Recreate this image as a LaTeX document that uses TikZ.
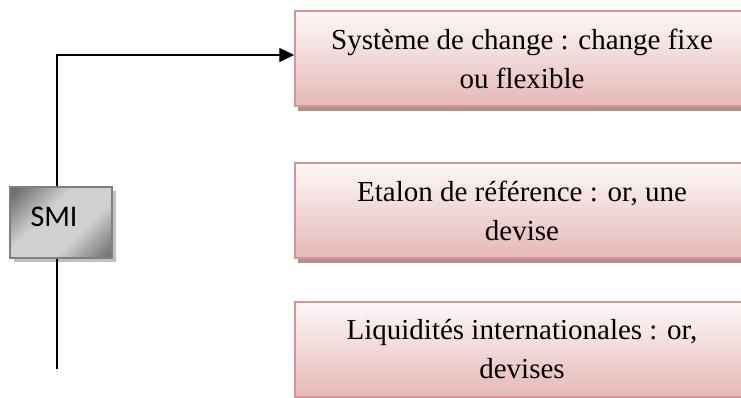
\documentclass[tikz,border=0pt]{standalone}
\usepackage{fontspec}
\setmainfont{Liberation Serif}
\newfontfamily\calib{Carlito}
\usetikzlibrary{shadows,arrows.meta,calc}
\definecolor{pinkborder}{HTML}{D99594}
\definecolor{pinktop}{HTML}{FDF8F8}
\definecolor{pinkbot}{HTML}{E5B8B7}
\definecolor{pinkshadow}{HTML}{AE9292}
\definecolor{smiborder}{HTML}{7F7F7F}
\definecolor{smishadow}{HTML}{C0C0C0}
\definecolor{smidark}{HTML}{6E6E6E}
\definecolor{smilight}{HTML}{D0D0D0}
\pgfdeclarehorizontalshading{smishade}{100bp}{color(0bp)=(smidark); color(18bp)=(smidark); color(40bp)=(smilight); color(62bp)=(smilight); color(84bp)=(smidark); color(100bp)=(smidark)}
\tikzset{
  pinkbox/.style={draw=pinkborder, line width=1.5pt, top color=pinktop, bottom color=pinkbot,
    minimum width=495pt, minimum height=95pt, inner sep=0pt,
    drop shadow={shadow xshift=3pt, shadow yshift=-5pt, fill=pinkshadow, opacity=1}},
  pinktext/.style={inner sep=0pt, align=center, font=\fontsize{29}{39}\selectfont},
  smibox/.style={draw=smiborder, line width=1.5pt, minimum width=102pt, minimum height=71pt, inner sep=0pt,
    shading=smishade, shading angle=-45,
    drop shadow={shadow xshift=4pt, shadow yshift=-4pt, fill=smishadow, opacity=1}},
  conn/.style={line width=1.4pt, black}
}
\begin{document}
\begin{tikzpicture}[x=1pt,y=-1pt]
\useasboundingbox (0,0) rectangle (741,397);
\clip (0,0) rectangle (741,397);
\node[pinkbox] (b1) at (542.5,58.5) {};
\node[pinkbox] (b2) at (542.5,210.5) {};
\node[pinkbox] (b3) at (542.5,349.5) {};
\node[pinktext] (t1) at (522,58.5) {Système de change : change fixe\\ou flexible};
\node[pinktext] (t2) at (522,210.5) {Etalon de référence : or, une\\devise};
\node[pinktext] (t3) at (522,349.5) {Liquidités internationales : or,\\devises};
\node[smibox] (smi) at (61,222.5) {};
\node[anchor=base, inner sep=0pt, font=\calib\fontsize{30}{34}\selectfont] (smitext) at (54,226) {SMI};
\coordinate (top) at (57,55);
\coordinate (bot) at (57,369);
\draw[conn, -{Triangle[length=15pt,width=14pt]}] (top |- smi.north) -- (top) -- (b1.west |- top);
\draw[conn] (bot |- smi.south) -- (bot);
\end{tikzpicture}
\end{document}
